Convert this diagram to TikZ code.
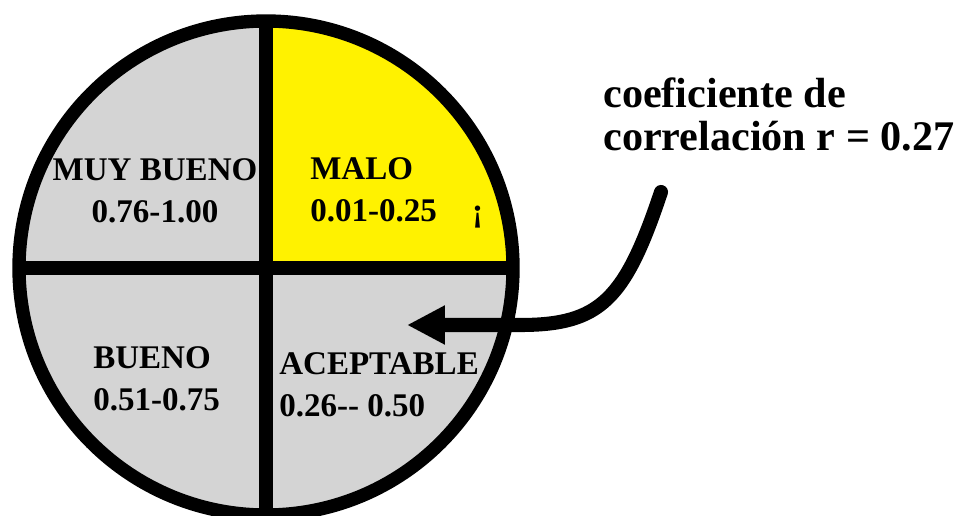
\documentclass[tikz,border=0pt]{standalone}
\usepackage{fontspec}
\setmainfont{Liberation Serif}
\usetikzlibrary{arrows.meta,positioning}
\definecolor{quadgray}{RGB}{212,212,212}
\definecolor{quadyellow}{RGB}{255,242,0}
\begin{document}
\begin{tikzpicture}[x=0.025cm, y=0.025cm,
    quad/.style={fill=quadgray},
    rim/.style={line width=9.5pt},
    lbl/.style={inner sep=0pt, font=\bfseries\fontsize{23.5pt}{29.5pt}\selectfont},
    note/.style={inner sep=0pt, align=left, font=\bfseries\fontsize{30pt}{30pt}\selectfont},
    arr/.style={-{Triangle[length=27pt, width=26pt]}, line width=10pt, line cap=round}
]
\clip (0,0) rectangle (964,515);
\coordinate (c) at (266,247);
\coordinate (top) at (266,494);
\coordinate (bot) at (266,0);
\coordinate (lft) at (19,247);
\coordinate (rgt) at (513,247);

\fill[quad] (c) -- (lft) arc (180:90:247) -- cycle;
\fill[quadyellow] (c) -- (top) arc (90:0:247) -- cycle;
\fill[quad] (c) -- (rgt) arc (0:-90:247) -- cycle;
\fill[quad] (c) -- (bot) arc (270:180:247) -- cycle;
\draw[rim] (top) -- (bot);
\draw[rim] (lft) -- (rgt);
\draw[rim] (c) circle (247);

\node[lbl, align=center, anchor=base] (muy) at (155,293) {MUY BUENO\\0.76-1.00};
\node[lbl, align=left, anchor=base west] (malo) at (310,294) {MALO\\0.01-0.25\hspace{25pt}¡};
\node[lbl, align=left, anchor=base west] (bueno) at (93,105) {BUENO\\0.51-0.75};
\node[lbl, align=left, anchor=base west] (acep) at (279,99) {ACEPTABLE\\0.26-{}- 0.50};
\node[note, anchor=base west] (coef) at (603,365) {coeficiente de\\correlación r = 0.27};

\coordinate (tail) at (661,323);
\coordinate (tip) at (407,190);
\draw[arr] (tail) .. controls (625,215) and (600,190) .. (520,190) -- (tip);
\end{tikzpicture}
\end{document}
